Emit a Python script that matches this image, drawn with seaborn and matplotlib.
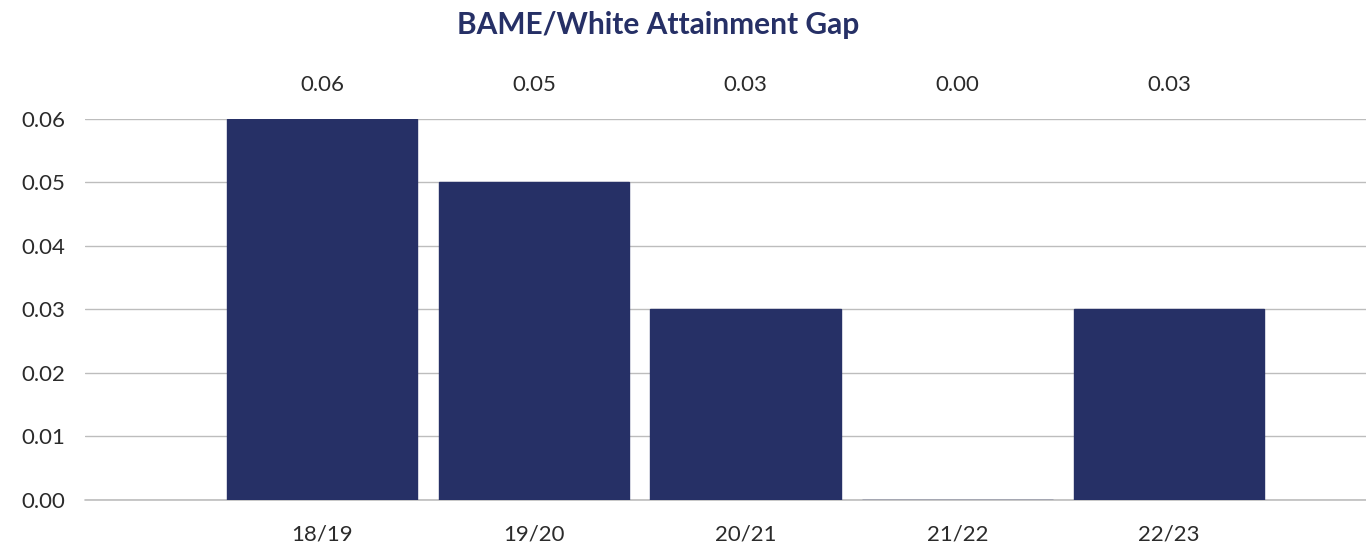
import pandas as pd
import matplotlib
matplotlib.use("Agg")
import matplotlib.pyplot as plt
import matplotlib.transforms as mtransforms
import seaborn as sns

# data
years = ["18/19", "19/20", "20/21", "21/22", "22/23"]
gap = [0.06, 0.05, 0.03, 0.00, 0.03]
labels = ["0.06", "0.05", "0.03", "0.00", "0.03"]

navy = "#263066"
txt = "#2b2b2b"

sns.set_style("white")
plt.rcParams['font.family'] = ['Lato', 'DejaVu Sans']

df = pd.DataFrame({"year": years, "gap": gap})

fig = plt.figure(figsize=(13.66, 5.49), dpi=100)
ax = fig.add_axes([0.0622, 0.0893, 0.9378, 0.694])

sns.barplot(data=df, x="year", y="gap", order=years, color=navy,
            saturation=1, width=0.9, ax=ax, edgecolor=navy, linewidth=1)

ax.set_xlim(-1.12, 4.93)
ax.set_ylim(0, 0.06)
ax.set_yticks([0, 0.01, 0.02, 0.03, 0.04, 0.05, 0.06])
ax.set_yticklabels([f"{v:.2f}" for v in ax.get_yticks()])
ax.yaxis.grid(True, color="#bdbdbd", linewidth=1)
ax.axhline(0, color="#bdbdbd", linewidth=1.2, clip_on=False, zorder=0.5)
ax.set_axisbelow(True)
for s in ax.spines.values():
    s.set_visible(False)
ax.tick_params(axis="both", length=0, labelsize=16, labelcolor=txt, pad=14)
ax.tick_params(axis="x", pad=18)
ax.set_xlabel("")
ax.set_ylabel("")

# data labels above the plot area
trans = mtransforms.blended_transform_factory(ax.transData, ax.transAxes)
for i, lab in enumerate(labels):
    ax.text(i, 1.088, lab, transform=trans, ha="center", va="center",
            fontsize=16, color=txt)

fig.text(0.482, 0.955, "BAME/White Attainment Gap", ha="center", va="center",
         fontsize=21.5, fontweight="bold", color=navy)

fig.savefig("out.png", dpi=100)
